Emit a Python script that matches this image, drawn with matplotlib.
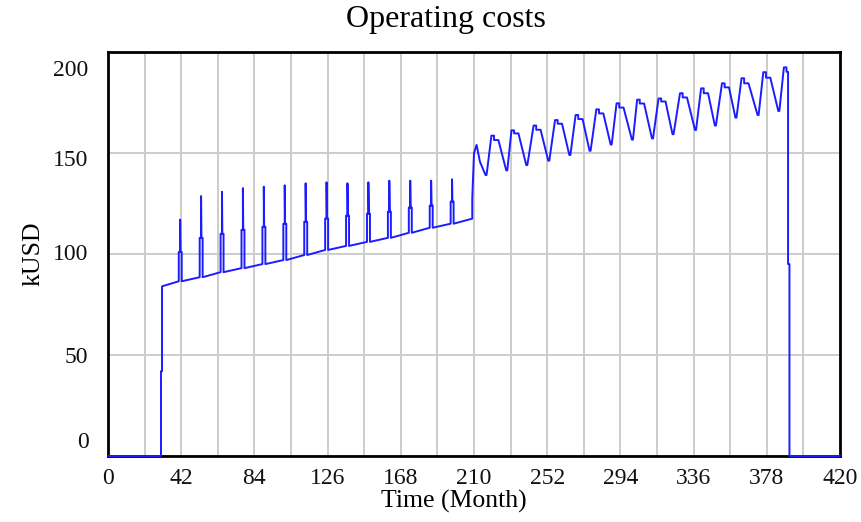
import matplotlib.pyplot as plt
from matplotlib.transforms import ScaledTranslation

# %%
# Operating costs (kUSD)

# start-up: zero, then a two-step jump
start_t = [0, 30.4, 30.4, 31.0, 31.0]
start_v = [0, 0, 42, 42, 84]

# phase 1: slowly rising base with a yearly spike
spike_months = [41.5, 53.5, 65.5, 77.5, 89.5, 101.5, 113.5, 125.5, 137.5, 149.5, 161.5, 173.5, 185.5, 197.5]
spike_base = [86.5, 88.5, 91, 93, 95, 97, 99.5, 102, 104, 106, 108, 110.5, 113, 115]
spike_mid = [101, 108, 110, 112, 113.5, 115, 116, 117.6, 119, 120, 121, 123, 124, 126]
spike_peak = [117, 128.7, 130.8, 132.6, 133.3, 134, 135, 135.5, 135, 135.5, 136.3, 136.3, 136.3, 137]

# jump into phase 2
jump_t = [209.0, 209.0, 210.0, 211.5, 213.4, 216.6, 217.2]
jump_v = [117.5, 127.5, 150.0, 154.0, 145.7, 139.1, 139.1]

# phase 2: yearly oscillation
peak_months = [220, 231.5, 244.2, 256.5, 268.3, 280.2, 291.8, 303.6, 315.9, 328.2, 340.3, 352.3, 363.5, 376]
peak_values = [158.6, 161.2, 163.6, 166.3, 168.8, 171.6, 174.6, 176.4, 177, 179.6, 182, 184.5, 187, 190]
shoulder_values = [156.4, 159.7, 161.5, 164.5, 166.8, 169.6, 172.5, 174.5, 175.5, 177.5, 179.6, 182.5, 184.5, 187.3]
trough_months = [228.5, 240, 252.6, 264.7, 276.3, 288.4, 300.6, 312.1, 323.9, 336.8, 348.2, 360, 372.7, 384.6]
trough_values = [141.4, 144, 146.2, 149, 151.1, 154.2, 156.6, 157.2, 159.3, 161.4, 163.6, 167.5, 168.8, 170.8]

# last peak and shutdown
end_t = [387.8, 389.3, 389.3, 390.2, 390.2, 391.0, 391.0, 420]
end_v = [192.4, 192.4, 190.2, 190.2, 95, 95, 0, 0]

x_ticks = [0, 42, 84, 126, 168, 210, 252, 294, 336, 378, 420]
y_ticks = [0, 50, 100, 150, 200]

# %%
t = list(start_t)
v = list(start_v)
for m, b, mid, pk in zip(spike_months, spike_base, spike_mid, spike_peak):
    t += [m - 0.9, m - 0.9, m - 0.1, m - 0.1, m + 0.1, m + 0.8, m + 0.8]
    v += [b, mid, mid, pk, mid, mid, b]
t += jump_t
v += jump_v
for i in range(len(peak_months)):
    pm, pv, sv = peak_months[i], peak_values[i], shoulder_values[i]
    t += [pm, pm + 1.5, pm + 1.5, pm + 4]
    v += [pv, pv, sv, sv]
    t += [trough_months[i], trough_months[i] + 0.6]
    v += [trough_values[i], trough_values[i]]
t += end_t
v += end_v

# %%
plt.rcParams['font.family'] = ['Liberation Serif', 'DejaVu Serif']

fig = plt.figure(figsize=(8.62, 5.22), dpi=100)
ax = fig.add_axes([108 / 862, 1 - 456 / 522, 732 / 862, 404 / 522])

ax.plot(t, v, color='#1c1cff', lw=1.4, zorder=4, clip_on=False)

ax.set_xlim(0, 420)
ax.set_ylim(0, 200)
ax.set_xticks(x_ticks)
ax.set_xticks(range(21, 420, 42), minor=True)
ax.set_yticks(y_ticks)
ax.grid(True, which='both', axis='x', color='#cccccc', lw=1.4)
ax.grid(True, axis='y', color='#cccccc', lw=1.4)
ax.tick_params(which='both', length=0, labelsize=17, colors='#111111')
ax.tick_params(axis='x', pad=9)
ax.tick_params(axis='y', pad=14)
for s in ax.spines.values():
    s.set_linewidth(2)
    s.set_color('black')

# Vensim-style y labels sit inside the range at the ends
shifts = [-16, 0, -2, 5, 16]
for lab, dy in zip(ax.get_yticklabels(), shifts):
    lab.set_transform(lab.get_transform() + ScaledTranslation(0, -dy / 100, fig.dpi_scale_trans))

ax.set_ylabel('kUSD', fontsize=18.5, labelpad=6)
fig.text(454 / 862, 1 - 501 / 522, 'Time (Month)', fontsize=18.5, ha='center', va='center')
fig.text(446 / 862, 1 - 19 / 522, 'Operating costs', fontsize=23, ha='center', va='center')

fig.savefig('out.png', dpi=100)
